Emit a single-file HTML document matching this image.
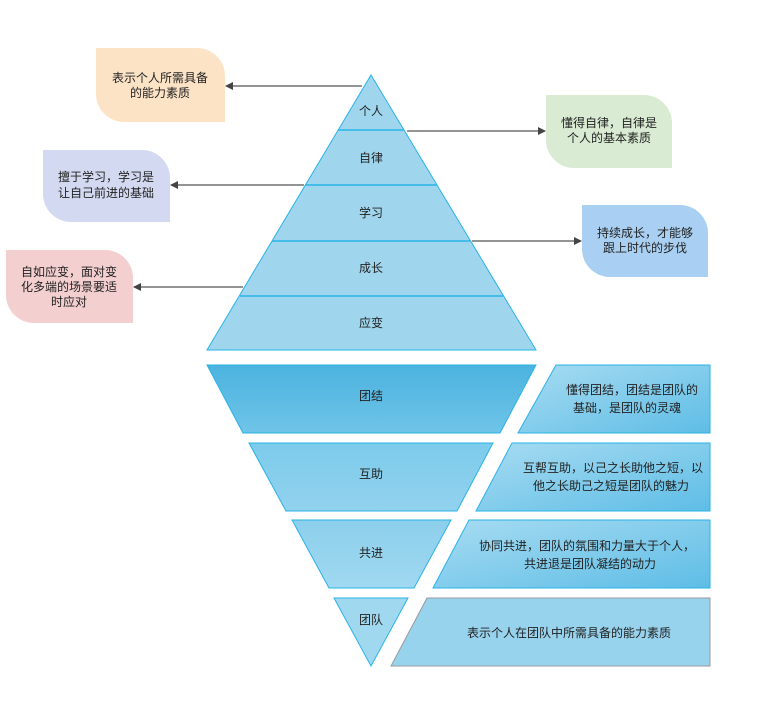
<!DOCTYPE html>
<html><head><meta charset="utf-8"><style>
body{margin:0;background:#fff;}
svg text{font-family:"Liberation Sans","Noto Sans CJK SC",sans-serif;font-size:12px;fill:#222;}
</style></head><body>
<svg width="784" height="700" viewBox="0 0 784 700" xmlns="http://www.w3.org/2000/svg">
<defs>
<linearGradient id="g1" x1="0" y1="0" x2="0" y2="1"><stop offset="0" stop-color="#4bb3df"/><stop offset="1" stop-color="#6fc4e8"/></linearGradient>
<linearGradient id="g2" x1="0" y1="0" x2="0" y2="1"><stop offset="0" stop-color="#7ccbeb"/><stop offset="1" stop-color="#92d2ee"/></linearGradient>
<linearGradient id="g3" x1="0" y1="0" x2="0" y2="1"><stop offset="0" stop-color="#8ccfec"/><stop offset="1" stop-color="#a0d8f0"/></linearGradient>
<linearGradient id="gr" x1="0" y1="0" x2="1" y2="1"><stop offset="0" stop-color="#a8dcf2"/><stop offset="1" stop-color="#5ebde6"/></linearGradient>
<marker id="ar" markerWidth="8" markerHeight="8" refX="7" refY="4" orient="auto" markerUnits="userSpaceOnUse"><path d="M0,0 L8,4 L0,8 z" fill="#444"/></marker>
</defs>
<!-- bubbles -->
<path d="M96,48 H197 A28,28 0 0 1 225,76 V122 H124 A28,28 0 0 1 96,94 Z" fill="#fde3c6"/>
<path d="M43,150 H142 A28,28 0 0 1 170,178 V222 H71 A28,28 0 0 1 43,194 Z" fill="#d3d9f0"/>
<path d="M6,250 H105 A28,28 0 0 1 133,278 V323 H34 A28,28 0 0 1 6,295 Z" fill="#f3cfd0"/>
<path d="M546,95 H644 A28,28 0 0 1 672,123 V168 H574 A28,28 0 0 1 546,140 Z" fill="#d9ebd2"/>
<path d="M582,205 H680 A28,28 0 0 1 708,233 V277 H610 A28,28 0 0 1 582,249 Z" fill="#a9d0f2"/>
<text x="160" y="82" text-anchor="middle">表示个人所需具备</text><text x="160" y="97" text-anchor="middle">的能力素质</text>
<text x="106" y="181" text-anchor="middle">擅于学习，学习是</text><text x="106" y="197" text-anchor="middle">让自己前进的基础</text>
<text x="69" y="276" text-anchor="middle">自如应变，面对变</text><text x="69" y="291" text-anchor="middle">化多端的场景要适</text><text x="69" y="306" text-anchor="middle">时应对</text>
<text x="609" y="127" text-anchor="middle">懂得自律，自律是</text><text x="609" y="142" text-anchor="middle">个人的基本素质</text>
<text x="645" y="237" text-anchor="middle">持续成长，才能够</text><text x="645" y="252" text-anchor="middle">跟上时代的步伐</text>
<!-- arrows -->
<g stroke="#555" stroke-width="1.2" fill="none">
<line x1="362" y1="86" x2="226" y2="86" marker-end="url(#ar)"/>
<line x1="407" y1="131" x2="545" y2="131" marker-end="url(#ar)"/>
<line x1="304" y1="185" x2="171" y2="185" marker-end="url(#ar)"/>
<line x1="472" y1="241" x2="581" y2="241" marker-end="url(#ar)"/>
<line x1="243" y1="287" x2="134" y2="287" marker-end="url(#ar)"/>
</g>
<!-- pyramid -->
<path d="M371,75 L536,350 L207,350 Z" fill="#9fd6ee" stroke="#29b3e6" stroke-width="1"/>
<g stroke="#29b3e6" stroke-width="1.5">
<line x1="338" y1="130" x2="404" y2="130"/>
<line x1="305" y1="185" x2="437" y2="185"/>
<line x1="272" y1="241" x2="470" y2="241"/>
<line x1="240" y1="296" x2="503" y2="296"/>
</g>
<text x="371" y="115" text-anchor="middle">个人</text>
<text x="371" y="162" text-anchor="middle">自律</text>
<text x="371" y="217" text-anchor="middle">学习</text>
<text x="371" y="272" text-anchor="middle">成长</text>
<text x="371" y="327" text-anchor="middle">应变</text>
<!-- inverted -->
<g stroke="#29b3e6" stroke-width="1">
<path d="M207,365 L536,365 L500,433 L243,433 Z" fill="url(#g1)"/>
<path d="M556,365 L710,365 L710,433 L518,433 Z" fill="url(#gr)"/>
<path d="M249,443 L493,443 L457,511 L286,511 Z" fill="url(#g2)"/>
<path d="M512,443 L710,443 L710,511 L476,511 Z" fill="url(#gr)"/>
<path d="M292,520 L451,520 L414,588 L329,588 Z" fill="url(#g3)"/>
<path d="M469,520 L710,520 L710,588 L433,588 Z" fill="url(#gr)"/>
<path d="M334,598 L408,598 L371,666 Z" fill="#a0d8f0"/>
<path d="M427,598 L710,598 L710,666 L391,666 Z" fill="#98d3ee" stroke="#999"/>
</g>
<text x="371" y="400" text-anchor="middle">团结</text>
<text x="371" y="478" text-anchor="middle">互助</text>
<text x="371" y="557" text-anchor="middle">共进</text>
<text x="371" y="624" text-anchor="middle">团队</text>
<text x="632" y="394" text-anchor="middle">懂得团结，团结是团队的</text><text x="627" y="412" text-anchor="middle">基础，是团队的灵魂</text>
<text x="613" y="472" text-anchor="middle">互帮互助，以己之长助他之短，以</text><text x="611" y="490" text-anchor="middle">他之长助己之短是团队的魅力</text>
<text x="587" y="550" text-anchor="middle">协同共进，团队的氛围和力量大于个人，</text><text x="590" y="568" text-anchor="middle">共进退是团队凝结的动力</text>
<text x="569" y="637" text-anchor="middle">表示个人在团队中所需具备的能力素质</text>
</svg>
</body></html>
